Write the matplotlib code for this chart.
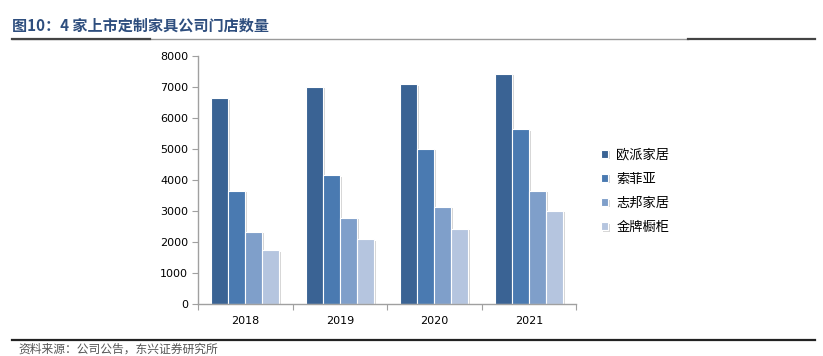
import numpy as np
import matplotlib
matplotlib.use('Agg')
import matplotlib.pyplot as plt
import matplotlib.patheffects as pe
from matplotlib.lines import Line2D

## DATA---------------------------------------------------------------------------
years = ['2018', '2019', '2020', '2021']
series_names = ['欧派家居', '索菲亚', '志邦家居', '金牌橱柜']
oppein = [6640, 7000, 7090, 7430]
sogal = [3650, 4150, 5000, 5640]
zbom = [2320, 2790, 3140, 3650]
goldenhome = [1730, 2090, 2430, 3010]
y_ticks = [0, 1000, 2000, 3000, 4000, 5000, 6000, 7000, 8000]
## -------------------------------------------------------------------------------

colors = ['#3A6394', '#4A7AB1', '#7F9FCA', '#B5C5DF']
cjk = ['Noto Sans CJK SC', 'DejaVu Sans']
plt.rcParams['font.family'] = cjk

fig = plt.figure(figsize=(8.23, 3.56), dpi=100)
ax = fig.add_axes([0.2406, 0.1461, 0.4593, 0.6966])

x = np.arange(len(years))
bar_w = 0.18
all_series = [oppein, sogal, zbom, goldenhome]
shadow = [pe.SimplePatchShadow(offset=(1.5, -1), shadow_rgbFace='#888888', alpha=0.35), pe.Normal()]
for i, vals in enumerate(all_series):
    bars = ax.bar(x + (i - 1.5) * bar_w, vals, width=bar_w, color=colors[i],
                  edgecolor='white', linewidth=0.8, label=series_names[i], zorder=2)
    for b in bars:
        b.set_path_effects(shadow)

ax.set_ylim(0, 8000)
ax.set_xlim(-0.5, 3.5)
ax.set_yticks(y_ticks)
ax.set_yticklabels([str(v) for v in y_ticks], fontsize=8, family='DejaVu Sans')

# category labels centred, ticks at category boundaries
ax.set_xticks(np.arange(-0.5, 4.0, 1.0))
ax.set_xticklabels([])
ax.set_xticks(x, minor=True)
ax.set_xticklabels(years, minor=True, fontsize=8, family='DejaVu Sans')
ax.tick_params(axis='x', which='minor', length=0, pad=9)
ax.tick_params(axis='x', which='major', length=4, color='#A0A0A0')
ax.tick_params(axis='y', length=4, color='#A0A0A0', pad=3)

for s in ['top', 'right']:
    ax.spines[s].set_visible(False)
for s in ['left', 'bottom']:
    ax.spines[s].set_color('#A0A0A0')
    ax.spines[s].set_linewidth(1.0)

leg = ax.legend(loc='center left', bbox_to_anchor=(1.035, 0.455), frameon=False,
                fontsize=9.5, handlelength=0.55, handleheight=0.55, handletextpad=0.6,
                labelspacing=0.85)

## TITLE & RULES-------------------------------------------------------------------
fig.text(0.015, 0.928, '图10：4 家上市定制家具公司门店数量', fontsize=10.9,
         fontweight='bold', color='#2E4E7E', ha='left', va='center', family=cjk)

y_rule = 1 - 38.5 / 356
fig.add_artist(Line2D([0.015, 0.836], [y_rule, y_rule], color='#9A9A9A', lw=1.0))
fig.add_artist(Line2D([0.015, 0.182], [y_rule, y_rule], color='#444444', lw=1.6))
fig.add_artist(Line2D([0.836, 0.99], [y_rule, y_rule], color='#444444', lw=1.6))

y_bot = 1 - 340 / 356
fig.add_artist(Line2D([0.015, 0.99], [y_bot, y_bot], color='#222222', lw=1.6))
fig.text(0.022, 1 - 349.5 / 356, '资料来源：公司公告，东兴证券研究所', fontsize=8.5,
         style='italic', color='#555555', ha='left', va='center', family=cjk)

fig.savefig('out.png', dpi=100)
